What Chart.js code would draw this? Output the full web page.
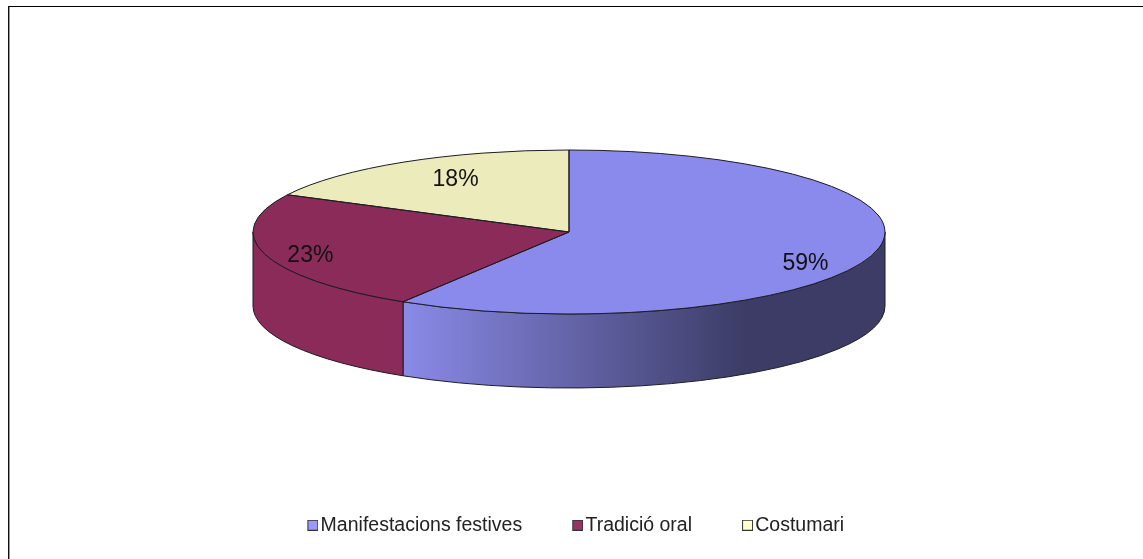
<!DOCTYPE html>
<html>
<head>
<meta charset="utf-8">
<script src="https://cdn.jsdelivr.net/npm/chart.js@4/dist/chart.umd.min.js"></script>
<style>
    html, body { margin: 0; padding: 0; background: #fff; overflow: hidden; }
    #frame { position: absolute; left: 8px; top: 6px; right: 0; bottom: 0; border-top: 1px solid #000; border-left: 1px solid #111; box-shadow: inset 1px 0 0 #999; }
    canvas { position: absolute; left: 0; top: 0; }
</style>
</head>
<body>
<div id="frame"></div>
<canvas id="pie" width="1143" height="559"></canvas>
<script>
const categories = ["Manifestacions festives", "Tradició oral", "Costumari"];
// slice sizes, the printed labels are the rounded ones
const sliceValues = [58.8, 23.7, 17.5];
const percentLabels = ["59%", "23%", "18%"];
const topColors = ["#8a8aec", "#8b2b59", "#ecebbc"];
const legendColors = ["#9999ff", "#993366", "#ffffcc"];

// the tilted disc
const centerX = 569, centerY = 232, radiusX = 316, radiusY = 82, depth = 74;
const edgeColor = "#1c1c22";

// how far along the middle of each slice its label sits (x, y factor of the radius)
const labelFactors = [[0.778, 1.40], [0.85, 1.07], [0.687, 0.745]];

// swatch sits on the right of a wider canvas so it ends up close to its text
const makeSwatch = (color) => {
    const c = document.createElement("canvas");
    c.width = 19;
    c.height = 11;
    const g = c.getContext("2d");
    g.fillStyle = color;
    g.fillRect(8, 0, 11, 11);
    g.strokeStyle = "#333";
    g.strokeRect(8.5, 0.5, 10, 10);
    return c;
};

const wallFill = (ctx, index, a0, a1) => {
    if (index !== 0) return topColors[index];
    const x0 = centerX + radiusX * Math.cos(a1);
    const x1 = centerX + radiusX * Math.cos(a0);
    const grad = ctx.createLinearGradient(x0, 0, x1, 0);
    grad.addColorStop(0, "#8a8ae8");
    grad.addColorStop(0.71, "#3c3c66");
    grad.addColorStop(1, "#3c3c66");
    return grad;
};

const tiltedPie = {
    id: "tiltedPie",
    beforeDatasetsDraw(chart) {
        const ctx = chart.ctx;
        const arcs = chart.getDatasetMeta(0).data;

        // side wall, only the front half of the disc shows it
        arcs.forEach((arc, i) => {
            const a0 = Math.max(arc.startAngle, 0);
            const a1 = Math.min(arc.endAngle, Math.PI);
            if (a1 <= a0) return;
            ctx.save();
            ctx.beginPath();
            ctx.ellipse(centerX, centerY, radiusX, radiusY, 0, a0, a1);
            ctx.ellipse(centerX, centerY + depth, radiusX, radiusY, 0, a1, a0, true);
            ctx.closePath();
            ctx.fillStyle = wallFill(ctx, i, a0, a1);
            ctx.fill();
            ctx.strokeStyle = edgeColor;
            ctx.lineWidth = 1;
            ctx.stroke();
            ctx.restore();
        });

        // the library draws a circle, squash it into the ellipse
        const r = arcs[0].outerRadius;
        ctx.save();
        ctx.translate(centerX, centerY);
        ctx.scale(radiusX / r, radiusY / r);
        ctx.translate(-arcs[0].x, -arcs[0].y);
    },
    afterDatasetsDraw(chart) {
        const ctx = chart.ctx;
        const arcs = chart.getDatasetMeta(0).data;
        ctx.restore();

        arcs.forEach((arc) => {
            ctx.beginPath();
            ctx.moveTo(centerX, centerY);
            ctx.ellipse(centerX, centerY, radiusX, radiusY, 0, arc.startAngle, arc.endAngle);
            ctx.closePath();
            ctx.strokeStyle = edgeColor;
            ctx.lineWidth = 1;
            ctx.stroke();
        });

        ctx.fillStyle = "#111";
        ctx.font = "23px 'Liberation Sans'";
        ctx.textAlign = "center";
        ctx.textBaseline = "middle";
        arcs.forEach((arc, i) => {
            const mid = (arc.startAngle + arc.endAngle) / 2;
            const x = centerX + radiusX * labelFactors[i][0] * Math.cos(mid);
            const y = centerY + radiusY * labelFactors[i][1] * Math.sin(mid);
            ctx.fillText(percentLabels[i], x, y);
        });
    }
};

new Chart(document.getElementById("pie"), {
    type: "pie",
    data: {
        labels: categories,
        datasets: [{
            data: sliceValues,
            backgroundColor: topColors,
            borderWidth: 0,
            clip: false
        }]
    },
    plugins: [tiltedPie],
    options: {
        responsive: false,
        animation: false,
        events: [],
        layout: { padding: { left: 8, top: 8, bottom: 14 } },
        plugins: {
            title: { display: false },
            tooltip: { enabled: false },
            legend: {
                position: "bottom",
                labels: {
                    usePointStyle: true,
                    boxWidth: 4,
                    padding: 49.5,
                    color: "#222",
                    font: { family: "'Liberation Sans'", size: 19.5 },
                    generateLabels: () => categories.map((name, i) => ({
                        text: name,
                        index: i,
                        pointStyle: makeSwatch(legendColors[i]),
                        fillStyle: legendColors[i],
                        strokeStyle: "#333",
                        lineWidth: 0,
                        fontColor: "#222"
                    }))
                }
            }
        }
    }
});
</script>
</body>
</html>
